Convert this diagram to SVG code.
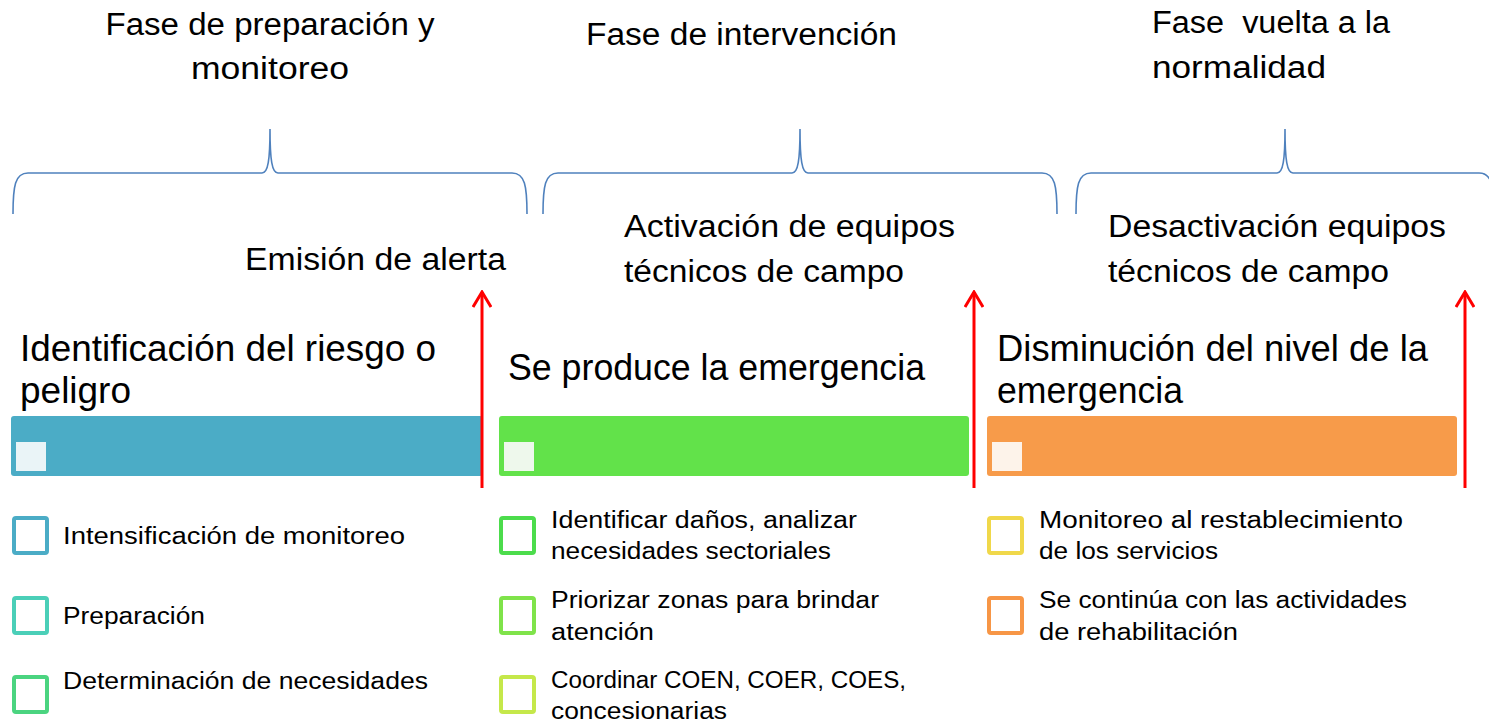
<svg xmlns="http://www.w3.org/2000/svg" width="1489" height="723" viewBox="0 0 1489 723">
<style>
text{font-family:"Liberation Sans","Open Sans",sans-serif;fill:#000}
.h{font-size:31px}
.m{font-size:31px}
.b{font-size:36px}
.s{font-size:23px}
.brace{fill:none;stroke:#4F81BD;stroke-width:1.6}
.arr{stroke:#FF0000;stroke-width:3;fill:none}
.box{fill:#fff;stroke-width:4}
</style>
<defs>
<marker id="ah" viewBox="0 0 20 20" refX="18" refY="10" markerWidth="20" markerHeight="20" markerUnits="userSpaceOnUse" orient="auto">
<polyline points="3,1 18,10 3,19" fill="none" stroke="#FF0000" stroke-width="3"/>
</marker>
</defs>
<rect width="1489" height="723" fill="#fff"/>

<g id="phase1">
<text class="h" x="270" y="35" text-anchor="middle" textLength="329" lengthAdjust="spacingAndGlyphs">Fase de preparación y</text>
<text class="h" x="270" y="79" text-anchor="middle" textLength="158" lengthAdjust="spacingAndGlyphs">monitoreo</text>
<path class="brace" d="M13,214 C13,186 15,173 28,173 L262,173 C268,173 270,160 270,129 C270,160 272,173 278,173 L512,173 C525,173 527,186 527,214"/>
</g>
<g id="phase2">
<text class="h" x="586" y="45" textLength="311" lengthAdjust="spacingAndGlyphs">Fase de intervención</text>
<path class="brace" d="M543,214 C543,186 545,173 558,173 L792,173 C798,173 800,160 800,129 C800,160 802,173 808,173 L1042,173 C1055,173 1057,186 1057,214"/>
</g>
<g id="phase3">
<text class="h" x="1152" y="33" textLength="238" lengthAdjust="spacingAndGlyphs" xml:space="preserve">Fase  vuelta a la</text>
<text class="h" x="1152" y="78" textLength="174" lengthAdjust="spacingAndGlyphs">normalidad</text>
<path class="brace" d="M1076,214 C1076,186 1078,173 1091,173 L1277,173 C1283,173 1285,160 1285,129 C1285,160 1287,173 1293,173 L1479,173 C1492,173 1494,186 1494,214"/>
</g>

<g id="milestone1">
<text class="m" x="245" y="270" textLength="261" lengthAdjust="spacingAndGlyphs">Emisión de alerta</text>
</g>
<g id="milestone2">
<text class="m" x="624" y="237" textLength="331" lengthAdjust="spacingAndGlyphs">Activación de equipos</text>
<text class="m" x="624" y="282" textLength="280" lengthAdjust="spacingAndGlyphs">técnicos de campo</text>
</g>
<g id="milestone3">
<text class="m" x="1108" y="237" textLength="338" lengthAdjust="spacingAndGlyphs">Desactivación equipos</text>
<text class="m" x="1108" y="282" textLength="281" lengthAdjust="spacingAndGlyphs">técnicos de campo</text>
</g>

<g id="stage1">
<text class="b" x="20" y="361" textLength="416" lengthAdjust="spacingAndGlyphs">Identificación del riesgo o</text>
<text class="b" x="20" y="403" textLength="111" lengthAdjust="spacingAndGlyphs">peligro</text>
<rect x="11" y="416" width="472" height="60" rx="3" fill="#4BACC6"/>
<rect x="16" y="442" width="30" height="29" fill="#EAF4F7"/>
</g>
<g id="stage2">
<text class="b" x="508" y="380" textLength="417" lengthAdjust="spacingAndGlyphs">Se produce la emergencia</text>
<rect x="499" y="416" width="470" height="60" rx="3" fill="#62E24A"/>
<rect x="504" y="442" width="30" height="29" fill="#EEF8EC"/>
</g>
<g id="stage3">
<text class="b" x="997" y="361" textLength="431" lengthAdjust="spacingAndGlyphs">Disminución del nivel de la</text>
<text class="b" x="997" y="403" textLength="186" lengthAdjust="spacingAndGlyphs">emergencia</text>
<rect x="987" y="416" width="470" height="60" rx="3" fill="#F79B4A"/>
<rect x="992" y="442" width="30" height="29" fill="#FDF3EA"/>
</g>

<g id="connectors">
<line class="arr" x1="482" y1="488" x2="482" y2="292" marker-end="url(#ah)"/>
<line class="arr" x1="974" y1="488" x2="974" y2="292" marker-end="url(#ah)"/>
<line class="arr" x1="1465" y1="488" x2="1465" y2="292" marker-end="url(#ah)"/>
</g>

<g id="items1">
<rect class="box" x="14" y="518" width="33" height="35" rx="2" stroke="#4BACC6"/>
<text class="s" x="63" y="544" textLength="342" lengthAdjust="spacingAndGlyphs">Intensificación de monitoreo</text>
<rect class="box" x="14" y="598" width="33" height="35" rx="2" stroke="#4BCFB8"/>
<text class="s" x="63" y="624" textLength="142" lengthAdjust="spacingAndGlyphs">Preparación</text>
<rect class="box" x="14" y="677" width="33" height="35" rx="2" stroke="#4BD480"/>
<text class="s" x="63" y="689" textLength="365" lengthAdjust="spacingAndGlyphs">Determinación de necesidades</text>
</g>
<g id="items2">
<rect class="box" x="501" y="518" width="33" height="35" rx="2" stroke="#4CDC4C"/>
<text class="s" x="551" y="528" textLength="306" lengthAdjust="spacingAndGlyphs">Identificar daños, analizar</text>
<text class="s" x="551" y="559" textLength="280" lengthAdjust="spacingAndGlyphs">necesidades sectoriales</text>
<rect class="box" x="501" y="598" width="33" height="35" rx="2" stroke="#7FE34A"/>
<text class="s" x="551" y="608" textLength="328" lengthAdjust="spacingAndGlyphs">Priorizar zonas para brindar</text>
<text class="s" x="551" y="640" textLength="103" lengthAdjust="spacingAndGlyphs">atención</text>
<rect class="box" x="501" y="677" width="33" height="35" rx="2" stroke="#C5E84A"/>
<text class="s" x="551" y="688" textLength="355" lengthAdjust="spacingAndGlyphs">Coordinar COEN, COER, COES,</text>
<text class="s" x="551" y="719" textLength="176" lengthAdjust="spacingAndGlyphs">concesionarias</text>
</g>
<g id="items3">
<rect class="box" x="989" y="518" width="33" height="35" rx="2" stroke="#F0D84A"/>
<text class="s" x="1039" y="528" textLength="364" lengthAdjust="spacingAndGlyphs">Monitoreo al restablecimiento</text>
<text class="s" x="1039" y="559" textLength="179" lengthAdjust="spacingAndGlyphs">de los servicios</text>
<rect class="box" x="989" y="598" width="33" height="35" rx="2" stroke="#F79646"/>
<text class="s" x="1039" y="608" textLength="368" lengthAdjust="spacingAndGlyphs">Se continúa con las actividades</text>
<text class="s" x="1039" y="640" textLength="199" lengthAdjust="spacingAndGlyphs">de rehabilitación</text>
</g>
</svg>
